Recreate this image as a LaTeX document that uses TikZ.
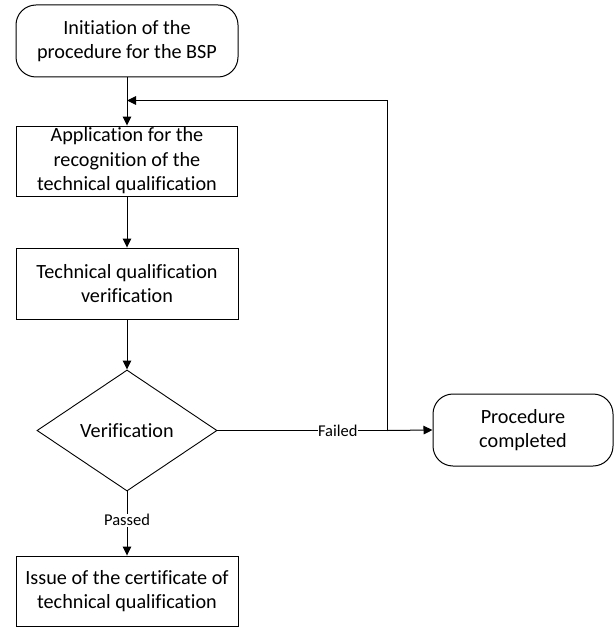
\documentclass[tikz,border=0pt]{standalone}
\usepackage{fontspec}
\setmainfont{Carlito}[Ligatures=NoCommon]
\usetikzlibrary{shapes.geometric,arrows.meta}
\begin{document}
\begin{tikzpicture}[x=1pt,y=1pt,
  every node/.style={font=\fontsize{20.2}{24.5}\selectfont, align=center, inner sep=0pt},
  term/.style={draw, rounded corners=20pt, line width=1pt},
  proc/.style={draw, line width=0.9pt},
  dec/.style={draw, diamond, line width=0.9pt},
  conn/.style={line width=1pt, -{Triangle[length=9pt,width=8.5pt]}},
  lbl/.style={fill=white, font=\fontsize{16.5}{20}\selectfont, inner sep=0.5pt}]
\useasboundingbox (0,0) rectangle (614,-628);
\node[term, minimum width=222pt, minimum height=72pt] (start) at (127,-41) {Initiation of the\\procedure for the BSP};
\node[proc, minimum width=221pt, minimum height=70pt] (app) at (127,-161) {Application for the\\recognition of the\\technical qualification};
\node[proc, minimum width=222pt, minimum height=71pt] (tech) at (127,-283.5) {Technical qualification\\verification};
\node[dec, minimum width=180pt, minimum height=121pt] (verif) at (127,-430.5) {Verification};
\node[proc, minimum width=222pt, minimum height=70pt] (issue) at (127,-591) {Issue of the certificate of\\technical qualification};
\node[term, minimum width=180pt, minimum height=72pt] (done) at (523,-430) {Procedure\\completed};
\coordinate (J) at (387,-430.5);
\coordinate (T) at (387,-100.5);
\coordinate (M) at (127,-100.5);
\draw[conn] (start) -- (app);
\draw[conn] (app) -- (tech);
\draw[conn] (tech) -- (verif);
\draw[conn] (verif) -- node[lbl, pos=0.45] {Passed} (issue);
\draw[line width=1pt] (verif.east) -- node[lbl, pos=0.71] {Failed} (J);
\draw[conn] (J) -- (done.west);
\draw[conn] (J) -- (T) -- (M);
\end{tikzpicture}
\end{document}
